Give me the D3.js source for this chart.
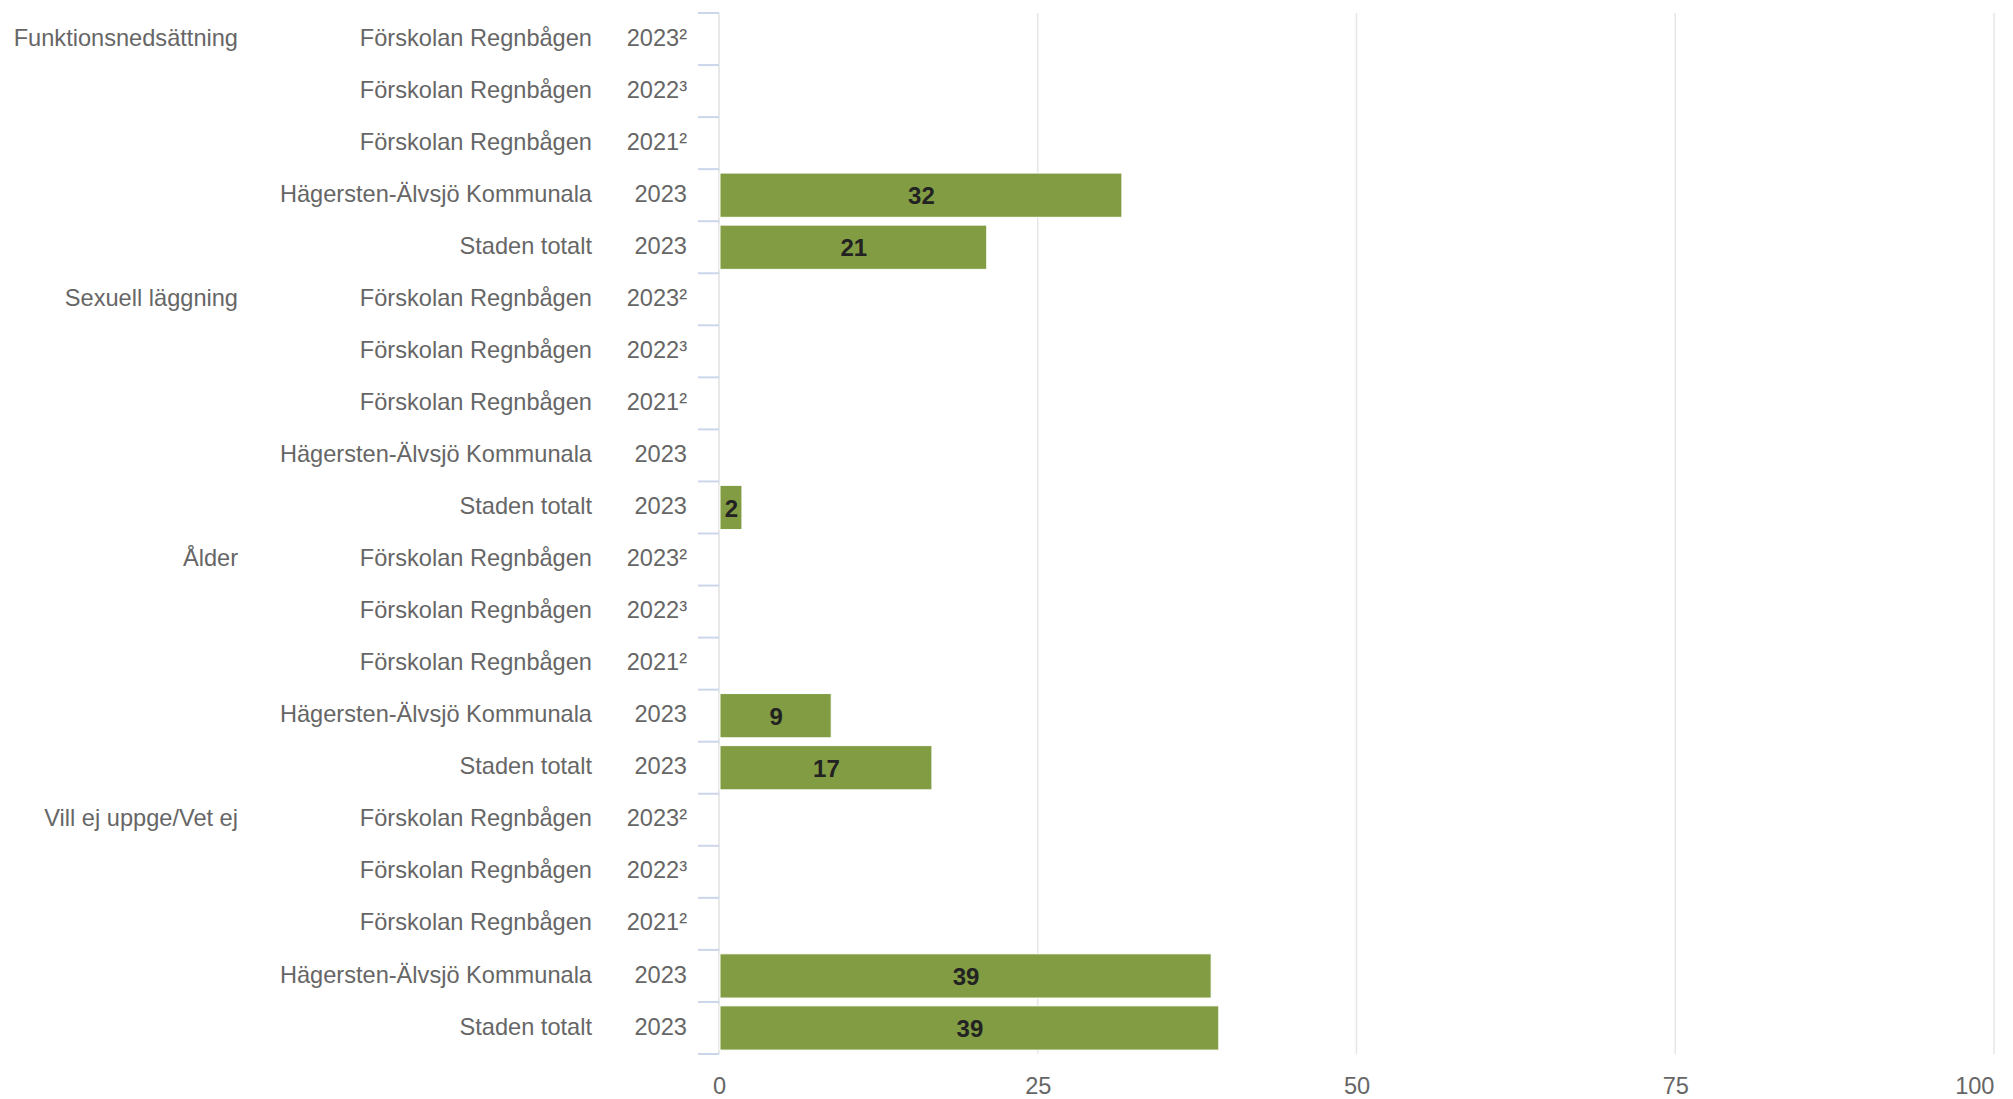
<!DOCTYPE html>
<html>
  <head>
    <meta charset="utf-8" />
    <script src="https://d3js.org/d3.v7.min.js"></script>
    <style>
      body { margin: 0; background: #fff; }
      text { font-family: "Liberation Sans", Arial, sans-serif; }
    </style>
  </head>
  <body>
    <svg id="chart"></svg>
    <script>
      // Data
      var groups = ["Funktionsnedsättning", "Sexuell läggning", "Ålder", "Vill ej uppge/Vet ej"];
      var units = ["Förskolan Regnbågen", "Förskolan Regnbågen", "Förskolan Regnbågen", "Hägersten-Älvsjö Kommunala", "Staden totalt"];
      var years = ["2023²", "2022³", "2021²", "2023", "2023"];
      var values = [
        [null, null, null, 31.6, 21.0],
        [null, null, null, null, 1.8],
        [null, null, null, 8.8, 16.7],
        [null, null, null, 38.6, 39.2]
      ];
      var xTicks = [0, 25, 50, 75, 100];

      var width = 2013;
      var height = 1099;

      // flatten rows
      var rows = [];
      groups.forEach(function (g, gi) {
        units.forEach(function (u, ui) {
          rows.push({ group: g, first: ui === 0, unit: u, year: years[ui], value: values[gi][ui], id: gi * units.length + ui });
        });
      });

      var svg = d3.select("#chart").attr("width", width).attr("height", height);

      var x = d3.scaleLinear().domain([0, 100]).range([719, 1994]);
      var y = d3.scaleBand()
        .domain(rows.map(function (d) { return d.id; }))
        .range([13, 1054])
        .paddingInner(0.15)
        .paddingOuter(0.075);

      // Gridlines
      svg.append("g")
        .selectAll("line")
        .data(xTicks.slice(1))
        .join("line")
        .attr("x1", function (d) { return x(d); })
        .attr("x2", function (d) { return x(d); })
        .attr("y1", 13)
        .attr("y2", 1054)
        .style("stroke", "#e6e6e6")
        .style("stroke-width", "1.5px");

      // Left axis line
      svg.append("line")
        .attr("x1", x(0)).attr("x2", x(0))
        .attr("y1", 13).attr("y2", 1054)
        .style("stroke", "#e0e0e0")
        .style("stroke-width", "1.5px");

      // Category tick marks at band boundaries
      var step = y.step();
      var boundaries = rows.map(function (d) { return y(d.id) - step * 0.075; });
      boundaries.push(1054);
      svg.append("g")
        .selectAll("line")
        .data(boundaries)
        .join("line")
        .attr("x1", 698)
        .attr("x2", x(0))
        .attr("y1", function (d) { return d; })
        .attr("y2", function (d) { return d; })
        .style("stroke", "#ccd6eb")
        .style("stroke-width", "2px");

      // Bars
      var bars = rows.filter(function (d) { return d.value !== null; });
      svg.append("g")
        .selectAll("rect")
        .data(bars)
        .join("rect")
        .attr("x", x(0) + 1)
        .attr("y", function (d) { return y(d.id); })
        .attr("width", function (d) { return x(d.value) - x(0) - 1; })
        .attr("height", y.bandwidth())
        .attr("fill", "#819c43")
        .style("stroke", "#ffffff")
        .style("stroke-width", "1px");

      // Bar labels
      svg.append("g")
        .selectAll("text")
        .data(bars)
        .join("text")
        .attr("x", function (d) { return (x(0) + x(d.value)) / 2 + 1; })
        .attr("y", function (d) { return y(d.id) + y.bandwidth() / 2; })
        .attr("dy", "0.38em")
        .attr("text-anchor", "middle")
        .style("font-size", "24px")
        .style("font-weight", "bold")
        .style("fill", "#222")
        .text(function (d) { return Math.round(d.value); });

      // Category labels: group, unit, year
      var labels = svg.append("g").style("font-size", "23.6px").style("fill", "#666");
      labels.selectAll(".grp")
        .data(rows.filter(function (d) { return d.first; }))
        .join("text")
        .attr("class", "grp")
        .attr("x", 238)
        .attr("y", function (d) { return y(d.id) + y.bandwidth() / 2; })
        .attr("dy", "0.28em")
        .attr("text-anchor", "end")
        .text(function (d) { return d.group; });
      labels.selectAll(".unit")
        .data(rows)
        .join("text")
        .attr("class", "unit")
        .attr("x", 592)
        .attr("y", function (d) { return y(d.id) + y.bandwidth() / 2; })
        .attr("dy", "0.28em")
        .attr("text-anchor", "end")
        .text(function (d) { return d.unit; });
      labels.selectAll(".year")
        .data(rows)
        .join("text")
        .attr("class", "year")
        .attr("x", 687)
        .attr("y", function (d) { return y(d.id) + y.bandwidth() / 2; })
        .attr("dy", "0.28em")
        .attr("text-anchor", "end")
        .text(function (d) { return d.year; });

      // Bottom axis labels
      var xAxis = svg.append("g")
        .attr("transform", "translate(0,1073)")
        .call(d3.axisBottom(x).tickValues(xTicks).tickSize(0).tickPadding(0));
      xAxis.select(".domain").remove();
      xAxis.selectAll("text")
        .style("font-size", "23.6px")
        .style("fill", "#666")
        .style("font-family", "Liberation Sans, Arial, sans-serif")
        .attr("dy", "0.9em")
        .attr("text-anchor", function (d) { return d === 100 ? "end" : "middle"; });
    </script>
  </body>
</html>
